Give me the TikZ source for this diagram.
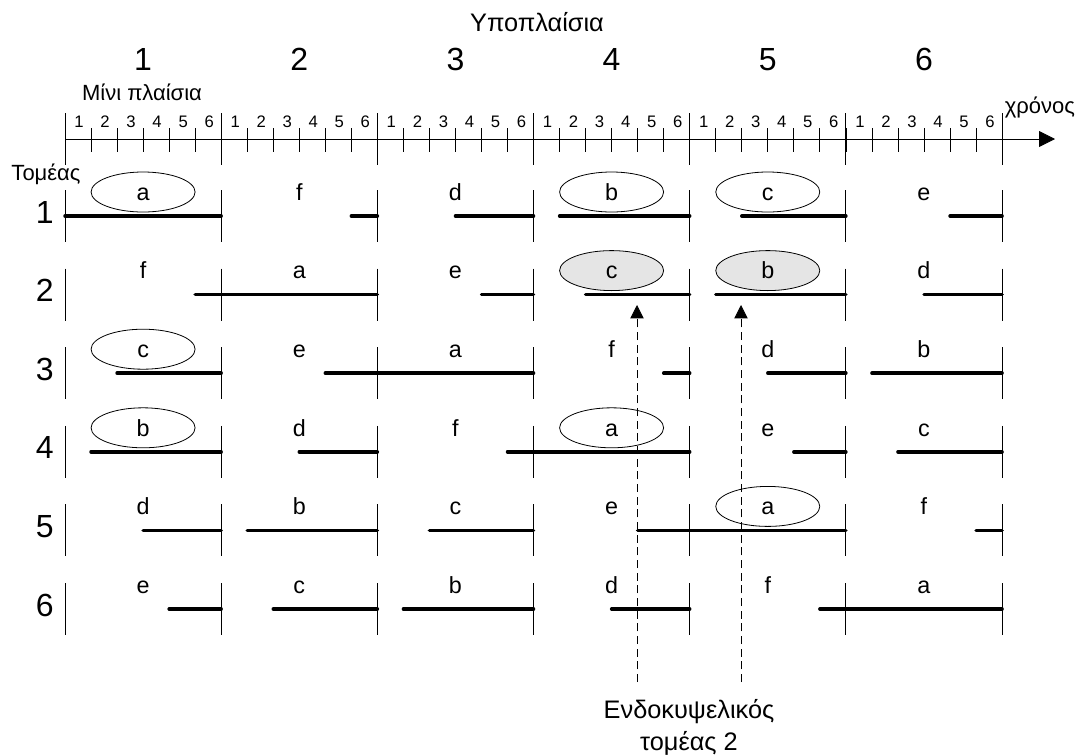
\documentclass[tikz,border=0pt]{standalone}
\usepackage{fontspec}
\setmainfont{Liberation Sans}
\usetikzlibrary{arrows.meta, shapes.geometric}
\tikzstyle{station}=[inner sep=0pt, text height=12.5pt, text depth=0pt, font=\fontsize{17.5}{18}\selectfont]
\tikzstyle{ring}=[station, ellipse, draw, line width=0.6pt, minimum width=78pt, minimum height=30pt]
\tikzstyle{hit}=[ring, fill=black!10]
\tikzstyle{burst}=[line width=2.6pt, line cap=round]
\tikzstyle{big}=[inner sep=0pt, anchor=base, font=\fontsize{24}{24}\selectfont]
\tikzstyle{mini}=[inner sep=0pt, anchor=base, font=\fontsize{12.5}{13}\selectfont]
\tikzstyle{caption}=[font=\fontsize{16.5}{19}\selectfont]
\newcommand{\station}{\node[station]}

\begin{document}
\begin{tikzpicture}[x=0.75pt, y=-0.75pt, line width=0.6pt]
\useasboundingbox (0,0) rectangle (1079,754);

% time axis with subframes and minislots
\node[caption, font=\fontsize{19}{20}\selectfont] (subframes) at (537,22) {Υποπλαίσια};
\node[caption] (minislots) at (142,92) {Μίνι πλαίσια};
\node[caption, anchor=west] (time) at (1000,107) {χρόνος};
\coordinate (t0) at (65,139);
\coordinate (tend) at (1055,139);
\draw[-{Triangle[length=12pt, width=12pt]}] (t0) -- (tend);
\foreach \k in {1,...,35}
    \draw (65+26.03*\k,128) -- (65+26.03*\k,152);
\foreach \m in {0,...,6}
    \draw (65+156.17*\m,113) -- (65+156.17*\m,165);
\foreach \m in {1,...,6} {
    \node[big] (sf\m) at (65+156.17*\m-78.08,70) {\m};
    \foreach \i in {1,...,6}
        \node[mini] (ms\m\i) at (65+156.17*\m-156.17+26.03*\i-12,127) {\i};
}

% sectors
\node[caption] (sector) at (46,174) {Τομέας};
\foreach \r in {1,...,6} {
    \pgfmathsetmacro\y{216+78.6*(\r-1)}
    \node[big, anchor=base east] (row\r) at (54,\y+7) {\r};
    \foreach \m in {0,...,6}
        \draw (65+156.17*\m,\y-26) -- (65+156.17*\m,\y+26);
}

% who transmits in which subframe
\foreach \r/\cells in {
    1/{a/ring,f/station,d/station,b/ring,c/ring,e/station},
    2/{f/station,a/station,e/station,c/hit,b/hit,d/station},
    3/{c/ring,e/station,a/station,f/station,d/station,b/station},
    4/{b/ring,d/station,f/station,a/ring,e/station,c/station},
    5/{d/station,b/station,c/station,e/station,a/ring,f/station},
    6/{e/station,c/station,b/station,d/station,f/station,a/station}} {
    \pgfmathsetmacro\y{216+78.6*(\r-1)}
    \foreach \c/\s [count=\m] in \cells
        \node[\s] (u\r\m) at (65+156.17*\m-78.08,\y-24) {\c};
}

% busy minislots, always up to the end of a subframe
\foreach \r/\segs in {
    1/{0/6,11/12,15/18,19/24,26/30,34/36},
    2/{5/12,16/18,20/24,25/30,33/36},
    3/{2/6,10/18,23/24,27/30,31/36},
    4/{1/6,9/12,17/24,28/30,32/36},
    5/{3/6,7/12,14/18,22/30,35/36},
    6/{4/6,8/12,13/18,21/24,29/36}} {
    \pgfmathsetmacro\y{216+78.6*(\r-1)}
    \foreach \a/\b in \segs
        \draw[burst] (65+26.03*\a,\y) -- (65+26.03*\b,\y);
}

% intra-cell sector 2
\node[caption, font=\fontsize{19}{24}\selectfont, align=center] (intra) at (689,727) {Ενδοκυψελικός\\τομέας 2};
\coordinate (foot1) at (637,682);
\coordinate (head1) at (637,305);
\coordinate (foot2) at (741,682);
\coordinate (head2) at (741,305);
\draw[dash pattern=on 6pt off 3.5pt, -{Triangle[length=10pt, width=10pt]}] (foot1) -- (head1);
\draw[dash pattern=on 6pt off 3.5pt, -{Triangle[length=10pt, width=10pt]}] (foot2) -- (head2);
\end{tikzpicture}
\end{document}
